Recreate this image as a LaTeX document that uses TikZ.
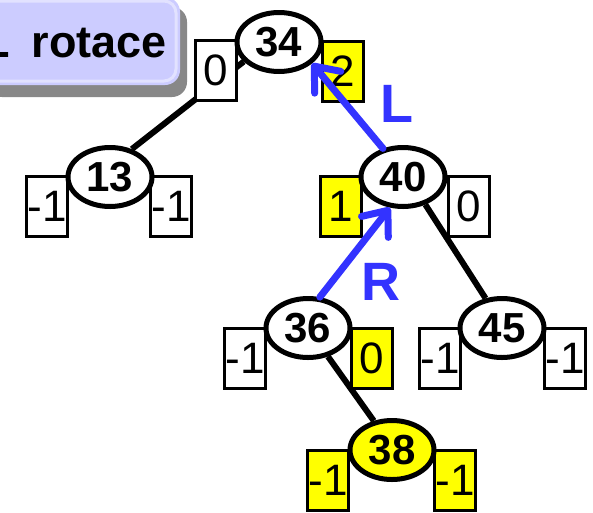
\documentclass[tikz,border=0pt]{standalone}
\usepackage{fontspec}
\setmainfont{Liberation Sans}
\usetikzlibrary{shapes.geometric,arrows.meta}
\pgfdeclarelayer{edgelayer}
\pgfdeclarelayer{boxlayer}
\pgfdeclarelayer{front}
\pgfsetlayers{edgelayer,boxlayer,main,front}
\definecolor{titlefill}{RGB}{204,204,255}
\definecolor{titlerim}{RGB}{226,226,255}
\definecolor{shadowgray}{RGB}{136,136,136}
\definecolor{arrowblue}{RGB}{51,51,255}
\definecolor{balyellow}{RGB}{255,255,0}
\tikzset{
  keynode/.style={ellipse, draw=black, line width=5pt, fill=white, minimum width=84pt, minimum height=59pt, inner sep=0pt, font=\fontsize{42}{44}\selectfont\bfseries},
  hotkey/.style={keynode, fill=balyellow},
  balbox/.style={rectangle, draw=black, line width=3pt, fill=white, minimum width=41pt, minimum height=60pt, inner sep=0pt, font=\fontsize{44}{46}\selectfont},
  hotbox/.style={balbox, fill=balyellow},
  treeedge/.style={draw=black, line width=6pt},
  rotarrow/.style={draw=arrowblue, line width=7pt, line cap=round, -{Straight Barb[length=21pt, width=34pt, line width=7pt, round]}},
  rotlabel/.style={text=arrowblue, font=\fontsize{54}{56}\selectfont\bfseries, inner sep=0pt}
}
\begin{document}
\begin{tikzpicture}[x=1pt, y=-1pt]
\useasboundingbox (0,0) rectangle (593,512);
\begin{scope}
\clip (0,0) rectangle (593,512);
% title box
\fill[shadowgray, rounded corners=15pt] (-13,7) rectangle (187,97);
\fill[titlefill, rounded corners=15pt] (-20,-3) rectangle (180,85);
\draw[titlerim, line width=3pt, rounded corners=12pt] (-16,1) rectangle (176,81);
\node[anchor=base east, inner sep=0pt, font=\fontsize{45}{47}\selectfont\bfseries] (title) at (167,57) {L\hspace{9pt} rotace};
\end{scope}
% key nodes
\node[keynode] (n34) at (279,42) {34};
\node[keynode] (n13) at (110,177) {13};
\node[keynode] (n40) at (403,177) {40};
\node[keynode] (n36) at (308,328) {36};
\node[keynode] (n45) at (502,328) {45};
\node[hotkey] (n38) at (392,450) {38};
% balance boxes
\begin{pgfonlayer}{boxlayer}
\node[balbox] (b34l) at (216,70) {0};
\node[hotbox] (b34r) at (343,71) {2};
\node[balbox] (b13l) at (47,206) {-1};
\node[balbox] (b13r) at (171,206) {-1};
\node[hotbox] (b40l) at (341,206) {1};
\node[balbox] (b40r) at (469,206) {0};
\node[balbox] (b36l) at (245,358) {-1};
\node[hotbox] (b36r) at (372,358) {0};
\node[balbox] (b45l) at (440,358) {-1};
\node[balbox] (b45r) at (565,358) {-1};
\node[hotbox] (b38l) at (328,480) {-1};
\node[hotbox] (b38r) at (455,480) {-1};
\end{pgfonlayer}
% tree edges
\begin{pgfonlayer}{edgelayer}
\draw[treeedge] (n13.52) -- (n34.209);
\draw[treeedge] (n40.-51) -- (n45.119);
\draw[treeedge] (n36.-55) -- (n38.122);
\end{pgfonlayer}
% rotation arrows
\begin{pgfonlayer}{front}
\draw[rotarrow] (n40.125) -- (n34.-33);
\draw[rotarrow] (n36.69) -- (n40.247);
\node[rotlabel, anchor=base west] (lblL) at (380,122) {L};
\node[rotlabel, anchor=base west] (lblR) at (361,300) {R};
\end{pgfonlayer}
\end{tikzpicture}
\end{document}
